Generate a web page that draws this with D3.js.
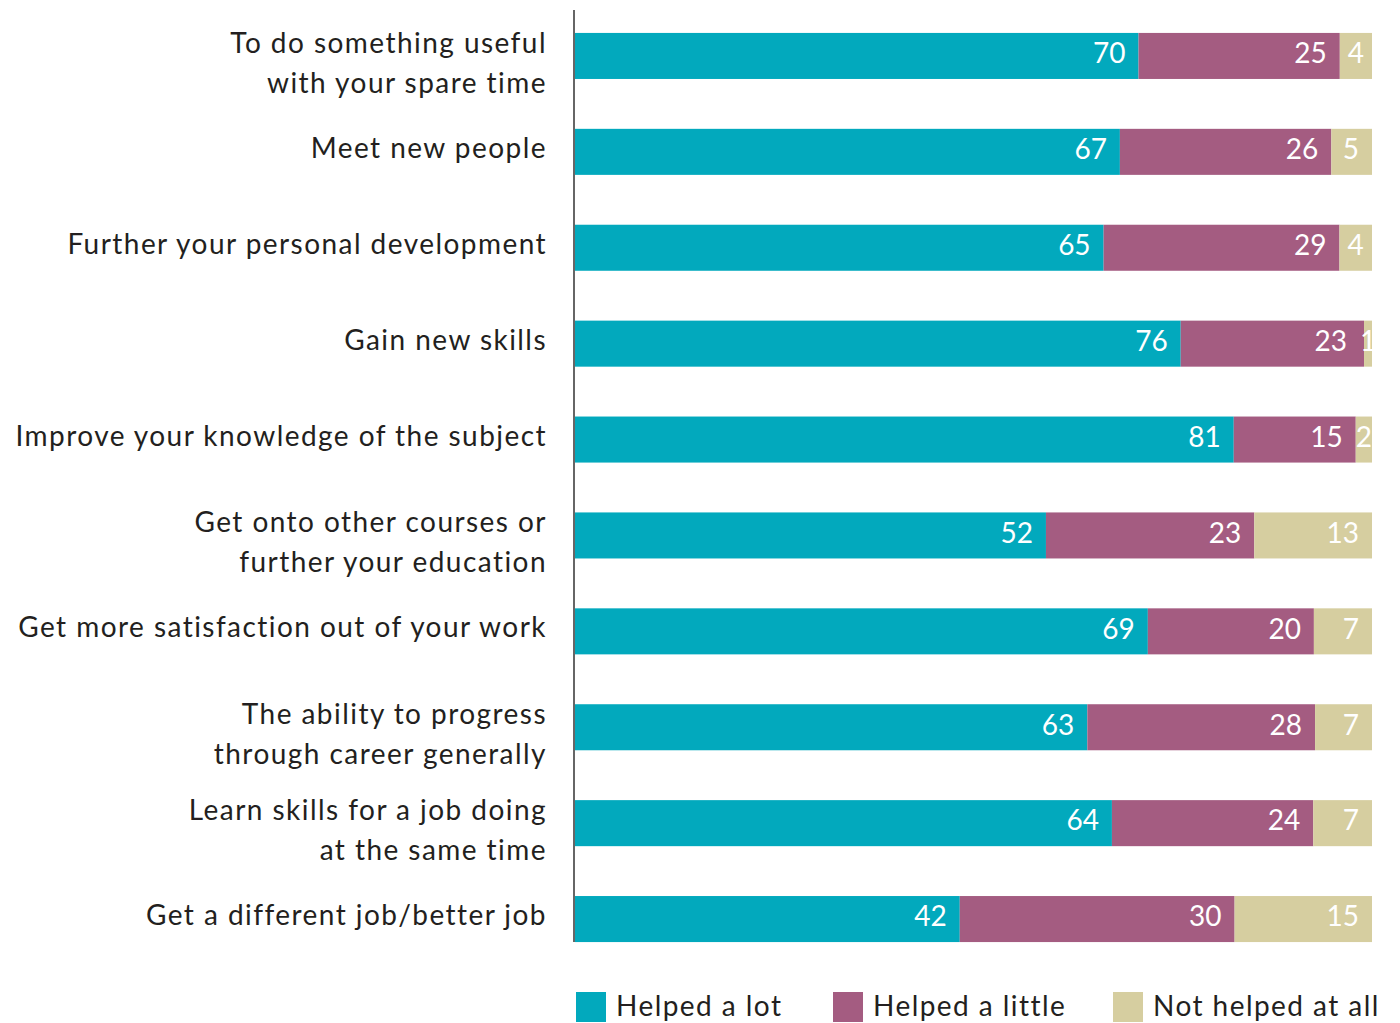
<!DOCTYPE html>
<html>
<head>
<meta charset="utf-8">
<script src="https://cdn.jsdelivr.net/npm/d3@7"></script>
<style>
  html, body { margin: 0; padding: 0; background: #ffffff; }
  svg { display: block; }
  text { font-family: Lato, "Open Sans", sans-serif; }
</style>
</head>
<body>
<svg id="chart" width="1400" height="1023"></svg>
<script>
// Survey outcomes: share of respondents for each benefit
const categories = [
  ["To do something useful", "with your spare time"],
  ["Meet new people"],
  ["Further your personal development"],
  ["Gain new skills"],
  ["Improve your knowledge of the subject"],
  ["Get onto other courses or", "further your education"],
  ["Get more satisfaction out of your work"],
  ["The ability to progress", "through career generally"],
  ["Learn skills for a job doing", "at the same time"],
  ["Get a different job/better job"]
];
const helpedALot    = [70, 67, 65, 76, 81, 52, 69, 63, 64, 42];
const helpedALittle = [25, 26, 29, 23, 15, 23, 20, 28, 24, 30];
const notHelped     = [4, 5, 4, 1, 2, 13, 7, 7, 7, 15];
const seriesNames   = ["Helped a lot", "Helped a little", "Not helped at all"];
const seriesColors  = ["#02a9bd", "#a45c81", "#d6cea0"];

const svg = d3.select("#chart");
const textColor = "#231f20";
const fontSize = 28;
const spacing = "1.45px";

const rows = categories.map((c, i) => ({
  key: i,
  label: c,
  [seriesNames[0]]: helpedALot[i],
  [seriesNames[1]]: helpedALittle[i],
  [seriesNames[2]]: notHelped[i]
}));

const stack = d3.stack().keys(seriesNames).offset(d3.stackOffsetExpand);
const layers = stack(rows);

const x = d3.scaleLinear().domain([0, 1]).range([575, 1372]);
const y = d3.scaleBand()
  .domain(rows.map(d => d.key))
  .range([8, 967])
  .paddingInner(0.52)
  .paddingOuter(0.26);
const color = d3.scaleOrdinal().domain(seriesNames).range(seriesColors);

// Stacked bars
const layerG = svg.append("g").selectAll("g")
  .data(layers)
  .join("g")
  .attr("fill", d => color(d.key));

layerG.selectAll("rect")
  .data(d => d.map(s => ({ s, key: d.key })))
  .join("rect")
  .attr("x", d => x(d.s[0]))
  .attr("y", d => y(d.s.data.key))
  .attr("width", d => x(d.s[1]) - x(d.s[0]))
  .attr("height", y.bandwidth());

// Value labels inside each segment; a label that spills out of a narrow
// segment pushes the label of the segment before it further left.
const spill = new Map();
const labelSel = layerG.selectAll("text")
  .data(d => d.map(s => ({ s, key: d.key })))
  .join("text")
  .attr("y", d => y(d.s.data.key) + y.bandwidth() / 2)
  .attr("dy", "0.26em")
  .attr("fill", "#ffffff")
  .attr("font-size", fontSize)
  .text(d => d.s.data[d.key]);

labelSel.each(function (d) {
  const x0 = x(d.s[0]), x1 = x(d.s[1]);
  const tw = this.getComputedTextLength();
  d.narrow = x1 - x0 - tw < 24;
  if (d.narrow) {
    const over = Math.max(0, (tw - (x1 - x0)) / 2);
    spill.set(d.s.data.key + "|" + d.key, over);
  }
});

labelSel.each(function (d) {
  const x0 = x(d.s[0]), x1 = x(d.s[1]);
  const sel = d3.select(this);
  if (d.narrow) {
    sel.attr("x", (x0 + x1) / 2).attr("text-anchor", "middle");
  } else {
    const idx = seriesNames.indexOf(d.key);
    const next = seriesNames[idx + 1];
    const extra = next ? (spill.get(d.s.data.key + "|" + next) || 0) : 0;
    sel.attr("x", x1 - 13 - extra).attr("text-anchor", "end");
  }
});

// Category axis on the left
const yAxis = d3.axisLeft(y).tickSize(0).tickFormat("");
const axisG = svg.append("g")
  .attr("transform", "translate(574,0)")
  .call(yAxis);
axisG.select(".domain")
  .attr("d", "M0,10V942")
  .attr("stroke", "#333333")
  .attr("stroke-width", 1.5);

const labelX = 547;
const labelG = svg.append("g");
rows.forEach(r => {
  const cy = y(r.key) + y.bandwidth() / 2;
  const t = labelG.append("text")
    .attr("x", labelX)
    .attr("text-anchor", "end")
    .attr("fill", textColor)
    .attr("font-size", fontSize)
    .style("letter-spacing", spacing);
  if (r.label.length === 1) {
    t.append("tspan").attr("x", labelX).attr("y", cy + 6).text(r.label[0]);
  } else {
    t.append("tspan").attr("x", labelX).attr("y", cy - 3).text(r.label[0]);
    t.append("tspan").attr("x", labelX).attr("y", cy + 37).text(r.label[1]);
  }
});

// Legend
const legendX = [576, 833, 1113];
const legend = svg.append("g")
  .selectAll("g")
  .data(seriesNames)
  .join("g")
  .attr("transform", (d, i) => `translate(${legendX[i]},992)`);
legend.append("rect")
  .attr("width", 30)
  .attr("height", 30)
  .attr("fill", d => color(d));
legend.append("text")
  .attr("x", 40)
  .attr("y", 24)
  .attr("fill", textColor)
  .attr("font-size", fontSize)
  .style("letter-spacing", spacing)
  .text(d => d);
</script>
</body>
</html>
